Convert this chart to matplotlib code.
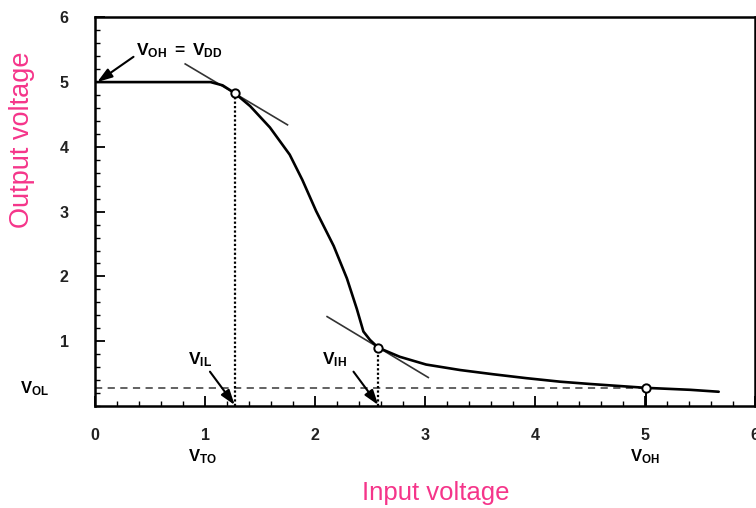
import matplotlib
matplotlib.use("Agg")
import matplotlib.pyplot as plt
from matplotlib.ticker import MultipleLocator

plt.rcParams['font.family'] = ['Liberation Sans', 'DejaVu Sans']
plt.rcParams['mathtext.fontset'] = 'custom'
plt.rcParams['mathtext.rm'] = 'Liberation Sans'
plt.rcParams['mathtext.bf'] = 'Liberation Sans:bold'
plt.rcParams['mathtext.it'] = 'Liberation Sans:italic'

# ---- data ----
x_curve = [0.0, 1.05, 1.16, 1.27, 1.41, 1.59, 1.77, 1.885, 2.01, 2.17, 2.29, 2.38, 2.44,
           2.50, 2.575, 2.77, 3.01, 3.32, 3.62, 3.92, 4.23, 4.5, 5.01, 5.41, 5.67]
y_curve = [5.0, 5.0, 4.95, 4.83, 4.63, 4.30, 3.88, 3.49, 3.01, 2.47, 1.97, 1.50, 1.15,
           1.02, 0.90, 0.76, 0.64, 0.555, 0.49, 0.43, 0.375, 0.34, 0.28, 0.25, 0.22]

V_IL, V_IL_out = 1.27, 4.83
V_IH, V_IH_out = 2.575, 0.90
V_OH_in, V_OL = 5.01, 0.275

tan1_x = [0.82, 1.75]
tan1_y = [5.28, 4.34]
tan2_x = [2.11, 3.03]
tan2_y = [1.38, 0.44]

ticks = [0, 1, 2, 3, 4, 5, 6]
pink = '#f5358a'

fig = plt.figure(figsize=(7.56, 5.08), dpi=100)
ax = fig.add_axes([95/756, 1 - 406/508, 660/756, (406 - 17.3)/508])
ax.set_xlim(0, 6)
ax.set_ylim(0, 6)

# main curve
ax.plot(x_curve, y_curve, color='black', lw=1.9, zorder=3,
        solid_capstyle='round', solid_joinstyle='round')
# tangents
ax.plot(tan1_x, tan1_y, color='#333333', lw=1.2, zorder=2)
ax.plot(tan2_x, tan2_y, color='#333333', lw=1.2, zorder=2)
# VOL dashed line
ax.plot([0, V_OH_in], [V_OL, V_OL], color='#555555', lw=1.3, ls=(0, (4, 3)), zorder=2)
# dotted verticals
ax.plot([V_IL, V_IL], [0, V_IL_out], color='black', lw=1.6, ls=(0, (1, 1)), zorder=2)
ax.plot([V_IH, V_IH], [0, V_IH_out], color='black', lw=1.6, ls=(0, (1, 1)), zorder=2)
ax.plot([V_OH_in, V_OH_in], [0, V_OL], color='black', lw=1.4, zorder=2)
# markers
ax.plot([V_IL, V_IH, V_OH_in], [V_IL_out, V_IH_out, V_OL], 'o', ms=6, mfc='white',
        mec='black', mew=1.4, zorder=5)

# arrows
arrow_kw = dict(arrowstyle='-|>,head_length=0.9,head_width=0.3', color='black', lw=1.5,
                shrinkA=0, shrinkB=0)
ax.annotate('', xy=(0.02, 5.0), xytext=(0.35, 5.39), arrowprops=arrow_kw, annotation_clip=False)
ax.annotate('', xy=(V_IL, 0.015), xytext=(1.045, 0.53), arrowprops=arrow_kw)
ax.annotate('', xy=(V_IH, 0.015), xytext=(2.35, 0.53), arrowprops=arrow_kw)

# labels
ax.text(0.77, 5.49, r'$\mathbf{V}_{\mathbf{OH}}\ \mathbf{=}\ \mathbf{V}_{\mathbf{DD}}$',
        fontsize=12.5, ha='center', va='center')
ax.text(0.955, 0.71, r'$\mathbf{V}_{\mathbf{IL}}$', fontsize=12.5, ha='center', va='center')
ax.text(2.18, 0.71, r'$\mathbf{V}_{\mathbf{IH}}$', fontsize=12.5, ha='center', va='center')
ax.text(-0.55, V_OL, r'$\mathbf{V}_{\mathbf{OL}}$', fontsize=12, ha='center', va='center',
        clip_on=False)
ax.text(0.98, -0.78, r'$\mathbf{V}_{\mathbf{TO}}$', fontsize=12, ha='center', va='center',
        clip_on=False)
ax.text(5.0, -0.78, r'$\mathbf{V}_{\mathbf{OH}}$', fontsize=12, ha='center', va='center',
        clip_on=False)

# axes style
for s in ax.spines.values():
    s.set_linewidth(1.8)
ax.set_xticks(ticks)
ax.set_yticks(ticks[1:])
ax.xaxis.set_minor_locator(MultipleLocator(0.2))
ax.yaxis.set_minor_locator(MultipleLocator(0.2))
ax.tick_params(which='major', direction='in', length=7, width=1.3, labelsize=11.5)
ax.tick_params(which='minor', direction='in', length=3.5, width=1.0)
ax.tick_params(axis='y', which='major', pad=19)
ax.tick_params(axis='x', which='major', pad=16)
for lbl in ax.get_xticklabels() + ax.get_yticklabels():
    lbl.set_fontweight('bold')
    lbl.set_color('#222222')

fig.text(436/756, 1 - 493/508, 'Input voltage', color=pink, fontsize=18.5,
         ha='center', va='center')
fig.text(22/756, 1 - 140/508, 'Output voltage', color=pink, fontsize=19.5,
         ha='center', va='center', rotation=90)

fig.savefig('out.png', dpi=100)
